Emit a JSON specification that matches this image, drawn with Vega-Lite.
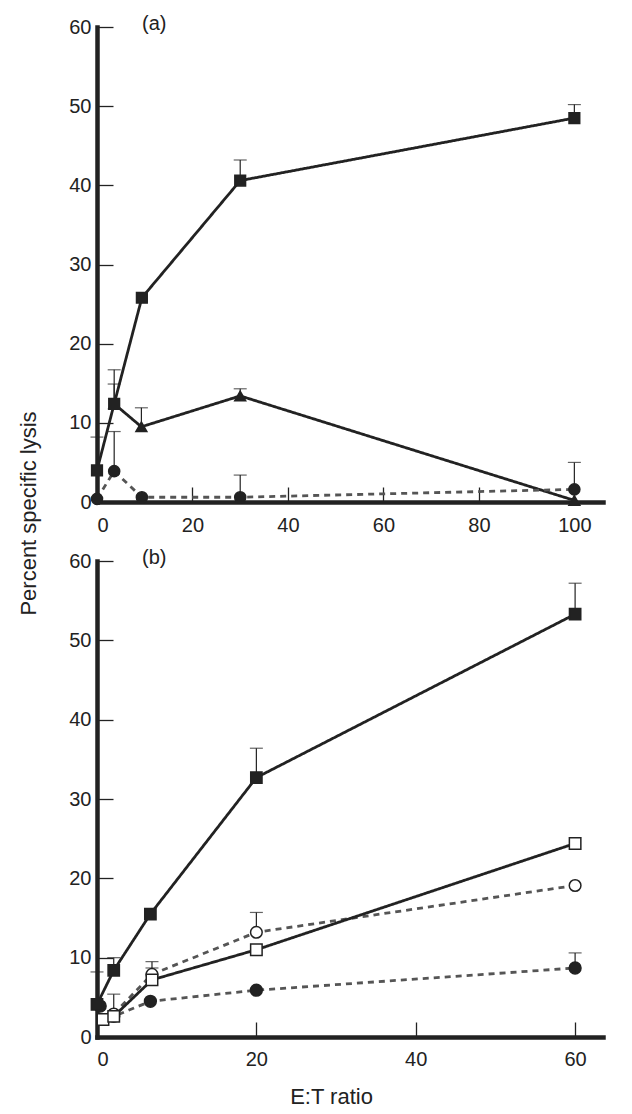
{
  "$schema": "https://vega.github.io/schema/vega-lite/v6.json",
  "padding": {"left": 17, "top": 14, "right": 5, "bottom": 5},
  "background": "white",
  "spacing": 59,
  "bounds": "flush",
  "config": {
    "view": {"stroke": null},
    "axis": {
      "grid": false,
      "domainColor": "#222",
      "domainWidth": 4.5,
      "domainCap": "square",
      "tickColor": "#222",
      "tickWidth": 1.3,
      "labelFont": "Liberation Sans",
      "labelFontSize": 20,
      "labelColor": "#222",
      "titleFont": "Liberation Sans",
      "titleFontSize": 22,
      "titleFontWeight": "normal",
      "titleColor": "#222"
    },
    "title": {"font": "Liberation Sans", "fontSize": 20, "fontWeight": "normal", "color": "#222"}
  },
  "datasets": {
    "panelA": [
      {"series": "S2", "ratio": 3.6, "lysis": 12.4, "err": 14.9},
      {"series": "S2", "ratio": 9.3, "lysis": 9.5, "err": 11.9},
      {"series": "S2", "ratio": 30, "lysis": 13.4, "err": 14.3},
      {"series": "S2", "ratio": 100, "lysis": 0.2, "err": null},
      {"series": "S3", "ratio": 0, "lysis": 0.4, "err": null},
      {"series": "S3", "ratio": 3.6, "lysis": 3.9, "err": 8.9},
      {"series": "S3", "ratio": 9.4, "lysis": 0.6, "err": null},
      {"series": "S3", "ratio": 30, "lysis": 0.6, "err": 3.4},
      {"series": "S3", "ratio": 100, "lysis": 1.6, "err": 5.0},
      {"series": "S1", "ratio": 0, "lysis": 4.0, "err": 8.2},
      {"series": "S1", "ratio": 3.6, "lysis": 12.4, "err": 16.7},
      {"series": "S1", "ratio": 9.4, "lysis": 25.8, "err": null},
      {"series": "S1", "ratio": 30, "lysis": 40.6, "err": 43.2},
      {"series": "S1", "ratio": 100, "lysis": 48.5, "err": 50.2}
    ],
    "panelB": [
      {"series": "S7", "ratio": 0.4, "lysis": 3.9, "err": null},
      {"series": "S7", "ratio": 2.1, "lysis": 2.6, "err": null},
      {"series": "S7", "ratio": 6.7, "lysis": 4.5, "err": null},
      {"series": "S7", "ratio": 20, "lysis": 5.9, "err": null},
      {"series": "S7", "ratio": 60, "lysis": 8.7, "err": 10.6},
      {"series": "S6", "ratio": 2.1, "lysis": 2.9, "err": null},
      {"series": "S6", "ratio": 6.9, "lysis": 7.9, "err": 9.5},
      {"series": "S6", "ratio": 20, "lysis": 13.2, "err": 15.7},
      {"series": "S6", "ratio": 60, "lysis": 19.1, "err": null},
      {"series": "S5", "ratio": 0.75, "lysis": 2.2, "err": null},
      {"series": "S5", "ratio": 2.1, "lysis": 2.6, "err": 5.4},
      {"series": "S5", "ratio": 6.9, "lysis": 7.2, "err": 8.7},
      {"series": "S5", "ratio": 20, "lysis": 11.0, "err": null},
      {"series": "S5", "ratio": 60, "lysis": 24.4, "err": null},
      {"series": "S4", "ratio": 0, "lysis": 4.1, "err": 8.2},
      {"series": "S4", "ratio": 2.1, "lysis": 8.4, "err": 10.0},
      {"series": "S4", "ratio": 6.7, "lysis": 15.5, "err": null},
      {"series": "S4", "ratio": 20, "lysis": 32.7, "err": 36.4},
      {"series": "S4", "ratio": 60, "lysis": 53.3, "err": 57.2}
    ]
  },
  "vconcat": [
    {
      "width": 506,
      "height": 475,
      "data": {"name": "panelA"},
      "title": {"text": "(a)", "anchor": "start", "frame": "group", "offset": -27, "dx": 45, "baseline": "middle"},
      "encoding": {
        "x": {"field": "ratio", "type": "quantitative",
          "scale": {"domain": [0, 106], "nice": false, "zero": false},
          "axis": {"values": [0, 20, 40, 60, 80, 100], "tickSize": -15, "labelPadding": 28, "title": null}},
        "y": {"field": "lysis", "type": "quantitative",
          "scale": {"domain": [0, 60], "nice": false},
          "axis": {"values": [0, 10, 20, 30, 40, 50, 60], "tickSize": -16, "labelPadding": 22,
            "title": "Percent specific lysis", "titleX": -62, "titleY": 486, "titleAlign": "center", "titleBaseline": "alphabetic", "titleAngle": 270}}
      },
      "layer": [
        {"mark": {"type": "line"},
          "encoding": {
            "detail": {"field": "series"},
            "stroke": {"field": "series", "scale": {"domain": ["S1","S2","S3","S4","S5","S6","S7"], "range": ["#222","#222","#555","#222","#222","#555","#555"]}, "legend": null},
            "strokeDash": {"field": "series", "scale": {"domain": ["S1","S2","S3","S4","S5","S6","S7"], "range": [[1,0],[1,0],[6,5],[1,0],[1,0],[6,5],[6,5]]}, "legend": null},
            "strokeWidth": {"field": "series", "scale": {"domain": ["S1","S2","S3","S4","S5","S6","S7"], "range": [2.8,2.8,1.1,2.8,2.8,1.1,1.1]}, "legend": null}
          }},
        {"transform": [{"filter": "datum.err != null"}],
          "mark": {"type": "rule", "color": "#222", "strokeWidth": 1.2},
          "encoding": {"y2": {"field": "err"}}},
        {"transform": [{"filter": "datum.err != null"}],
          "mark": {"type": "tick", "orient": "horizontal", "color": "#222", "size": 13, "thickness": 1.2},
          "encoding": {"y": {"field": "err", "type": "quantitative"}}},
        {"mark": {"type": "point", "opacity": 1, "stroke": "#222", "strokeWidth": 1.5},
          "encoding": {
            "shape": {"field": "series", "scale": {"domain": ["S1","S2","S3","S4","S5","S6","S7"], "range": ["square","triangle-up","circle","square","square","circle","circle"]}, "legend": null},
            "fill": {"field": "series", "scale": {"domain": ["S1","S2","S3","S4","S5","S6","S7"], "range": ["#222","#222","#222","#222","white","white","#222"]}, "legend": null},
            "size": {"field": "series", "scale": {"domain": ["S1","S2","S3","S4","S5","S6","S7"], "range": [115,140,100,115,85,95,100]}, "legend": null}
          }}
      ]
    },
    {
      "width": 506,
      "height": 476,
      "data": {"name": "panelB"},
      "title": {"text": "(b)", "anchor": "start", "frame": "group", "offset": -27, "dx": 45, "baseline": "middle"},
      "encoding": {
        "x": {"field": "ratio", "type": "quantitative",
          "scale": {"domain": [0, 63.5], "nice": false, "zero": false},
          "axis": {"values": [0, 20, 40, 60], "tickSize": -15, "labelPadding": 27,
            "title": "E:T ratio", "titleX": 234, "titleY": 66, "titleAlign": "center", "titleBaseline": "alphabetic"}},
        "y": {"field": "lysis", "type": "quantitative",
          "scale": {"domain": [0, 60], "nice": false},
          "axis": {"values": [0, 10, 20, 30, 40, 50, 60], "tickSize": -16, "labelPadding": 22, "title": null}}
      },
      "layer": [
        {"mark": {"type": "line"},
          "encoding": {
            "detail": {"field": "series"},
            "stroke": {"field": "series", "scale": {"domain": ["S1","S2","S3","S4","S5","S6","S7"], "range": ["#222","#222","#555","#222","#222","#555","#555"]}, "legend": null},
            "strokeDash": {"field": "series", "scale": {"domain": ["S1","S2","S3","S4","S5","S6","S7"], "range": [[1,0],[1,0],[6,5],[1,0],[1,0],[6,5],[6,5]]}, "legend": null},
            "strokeWidth": {"field": "series", "scale": {"domain": ["S1","S2","S3","S4","S5","S6","S7"], "range": [2.8,2.8,1.1,2.8,2.8,1.1,1.1]}, "legend": null}
          }},
        {"transform": [{"filter": "datum.err != null"}],
          "mark": {"type": "rule", "color": "#222", "strokeWidth": 1.2},
          "encoding": {"y2": {"field": "err"}}},
        {"transform": [{"filter": "datum.err != null"}],
          "mark": {"type": "tick", "orient": "horizontal", "color": "#222", "size": 13, "thickness": 1.2},
          "encoding": {"y": {"field": "err", "type": "quantitative"}}},
        {"mark": {"type": "point", "opacity": 1, "stroke": "#222", "strokeWidth": 1.5},
          "encoding": {
            "shape": {"field": "series", "scale": {"domain": ["S1","S2","S3","S4","S5","S6","S7"], "range": ["square","triangle-up","circle","square","square","circle","circle"]}, "legend": null},
            "fill": {"field": "series", "scale": {"domain": ["S1","S2","S3","S4","S5","S6","S7"], "range": ["#222","#222","#222","#222","white","white","#222"]}, "legend": null},
            "size": {"field": "series", "scale": {"domain": ["S1","S2","S3","S4","S5","S6","S7"], "range": [115,140,100,115,85,95,100]}, "legend": null}
          }}
      ]
    }
  ]
}
